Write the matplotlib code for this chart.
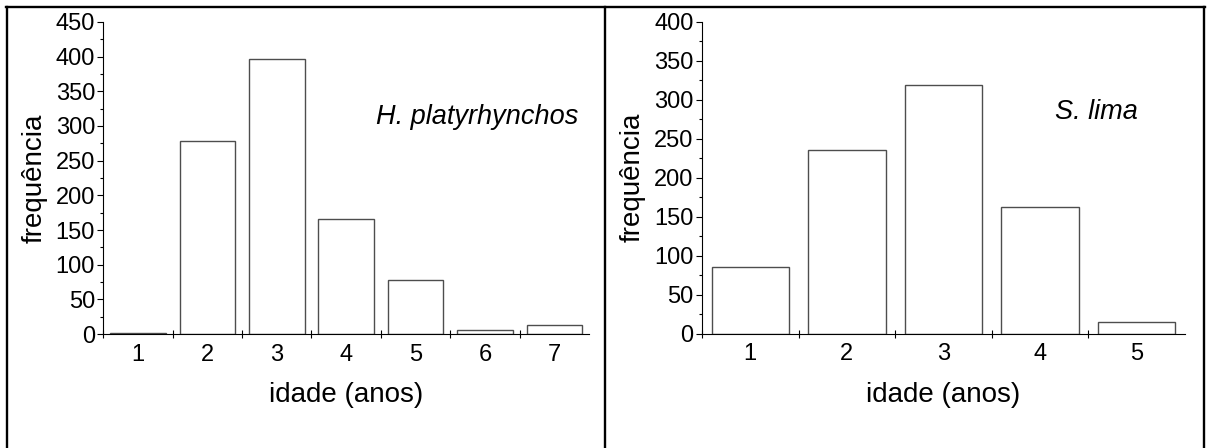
import matplotlib

matplotlib.use("Agg")

import matplotlib.pyplot as plt
from matplotlib.lines import Line2D
from matplotlib.ticker import MultipleLocator

plt.rcParams["font.family"] = ["Liberation Sans", "DejaVu Sans"]

# age-class frequencies for the two species
ages_hp = [1, 2, 3, 4, 5, 6, 7]
freq_hp = [2, 279, 396, 166, 78, 6, 13]
ages_sl = [1, 2, 3, 4, 5]
freq_sl = [85, 235, 319, 163, 15]

W, H = 1209, 448
fig = plt.figure(figsize=(W / 100, H / 100), dpi=100)


def px_axes(x0, x1, ytop, ybot):
    return fig.add_axes([x0 / W, 1 - ybot / H, (x1 - x0) / W, (ybot - ytop) / H])


def draw_panel(ax, ages, freq, ymax, name, name_xy):
    ax.bar(ages, freq, width=0.8, color="white", edgecolor="#4d4d4d", lw=1.0, zorder=2)
    ax.set_xlim(0.5, len(ages) + 0.5)
    ax.set_ylim(0, ymax)
    for s in ("top", "right"):
        ax.spines[s].set_visible(False)
    for s in ("left", "bottom"):
        ax.spines[s].set_linewidth(0.8)
        ax.spines[s].set_zorder(3)

    # category labels sit at the centres, tick marks at the class boundaries
    ax.set_xticks(ages)
    ax.set_xticks([a + 0.5 for a in range(len(ages))], minor=True)
    ax.tick_params(axis="x", which="major", length=0, pad=7, labelsize=17)
    ax.tick_params(axis="x", which="minor", direction="inout", length=6, width=0.8)

    ax.yaxis.set_major_locator(MultipleLocator(50))
    ax.yaxis.set_minor_locator(MultipleLocator(25))
    ax.tick_params(axis="y", which="major", direction="out", length=4.5, width=0.8,
                   pad=1.5, labelsize=17)
    ax.tick_params(axis="y", which="minor", direction="out", length=2.5, width=0.8)

    ax.set_ylabel("frequência", fontsize=20, labelpad=6)
    ax.set_xlabel("idade (anos)", fontsize=20, labelpad=12)
    ax.text(name_xy[0], name_xy[1], name, style="italic", fontsize=19.5,
            ha="right", va="baseline")


ax1 = px_axes(103.3, 589, 22, 334)
draw_panel(ax1, ages_hp, freq_hp, 450, "H. platyrhynchos", (7.34, 303))

ax2 = px_axes(702, 1185, 22, 333.5)
draw_panel(ax2, ages_sl, freq_sl, 400, "S. lima", (5.01, 276))

# table-like frame around the two panels
frame = dict(color="black", lw=1.7, transform=fig.transFigure)
fig.add_artist(Line2D([7 / W, 7 / W], [0, 1 - 7 / H], **frame))
fig.add_artist(Line2D([1204 / W, 1204 / W], [0, 1 - 7 / H], **frame))
fig.add_artist(Line2D([604.5 / W, 604.5 / W], [0, 1 - 7 / H], **frame))
fig.add_artist(Line2D([6 / W, 1205 / W], [1 - 7 / H, 1 - 7 / H], **frame))

fig.savefig("out.png", dpi=100)
